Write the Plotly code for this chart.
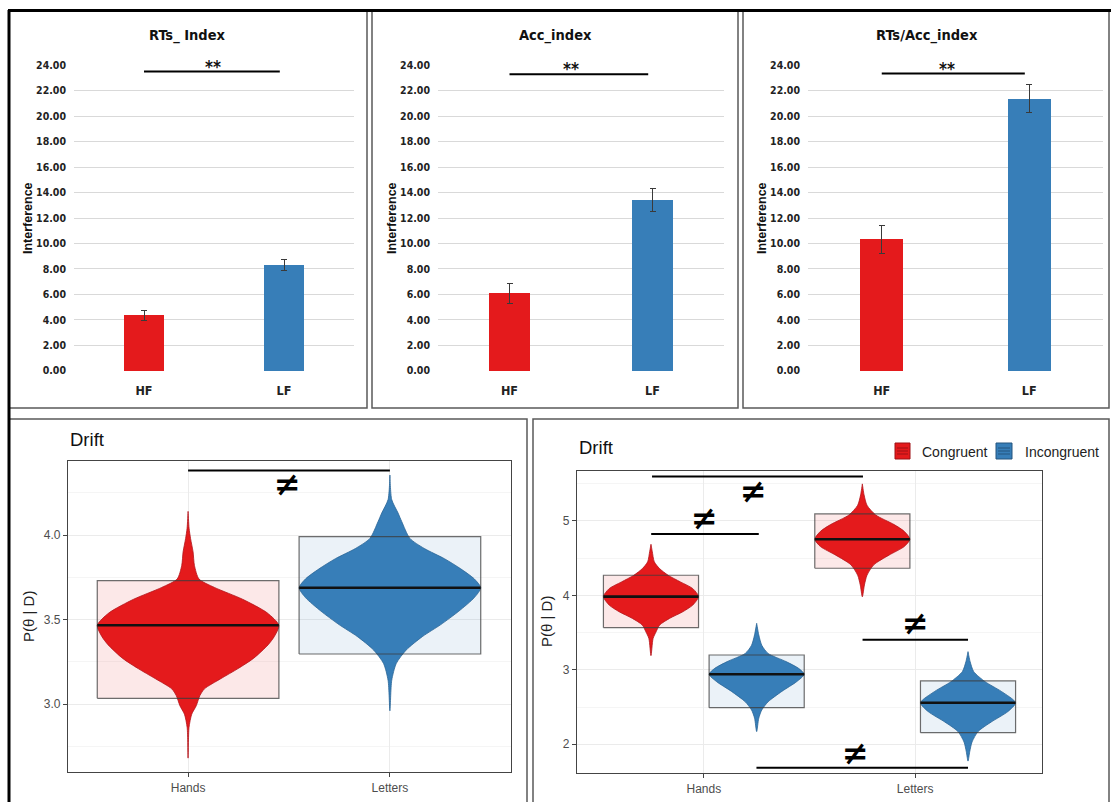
import plotly.graph_objects as go

W, H = 1111, 802

# ---------------- data: interference indices (top row) ----------------
groups = ["HF", "LF"]
bar_titles = ["RTs_ Index", "Acc_index", "RTs/Acc_index"]
rts_mean = [4.35, 8.33]
rts_err = [0.42, 0.44]
acc_mean = [6.09, 13.39]
acc_err = [0.77, 0.90]
ratio_mean = [10.33, 21.36]
ratio_err = [1.12, 1.10]
bar_sig_y = [23.5, 23.3, 23.35]
bar_sig_text = ["**", "**", "**"]
bar_ticks = [0, 2, 4, 6, 8, 10, 12, 14, 16, 18, 20, 22, 24]

# ---------------- data: drift posterior, by stimulus ----------------
drift_cats = ["Hands", "Letters"]
drift_a_median = [3.466, 3.688]
drift_a_low = [3.034, 3.296]
drift_a_high = [3.73, 3.99]
# violin outlines: y levels and relative half-widths (1 = widest)
hands_a_y = [2.68, 2.86, 2.94, 2.99, 3.05, 3.09, 3.15, 3.21, 3.27, 3.35, 3.40,
             3.466, 3.54, 3.62, 3.69, 3.74, 3.82, 3.90, 3.98, 4.04, 4.14]
hands_a_w = [0, 0.01, 0.04, 0.09, 0.13, 0.18, 0.36, 0.55, 0.72, 0.88, 0.95,
             1.0, 0.87, 0.6, 0.29, 0.12, 0.07, 0.055, 0.027, 0.011, 0]
letters_a_y = [2.96, 3.14, 3.24, 3.32, 3.40, 3.47, 3.55, 3.63, 3.688, 3.74,
               3.80, 3.86, 3.92, 3.98, 4.08, 4.13, 4.21, 4.355]
letters_a_w = [0, 0.02, 0.07, 0.18, 0.36, 0.56, 0.76, 0.93, 1.0, 0.93,
               0.78, 0.6, 0.38, 0.22, 0.13, 0.09, 0.02, 0]
drift_a_sig = [(0, 1, 4.382)]
drift_a_sig_label = [(0.495, 4.30)]

# ---------------- data: drift posterior, by stimulus x congruency ----------------
conditions = ["Congruent", "Incongruent"]
drift_b_median = {"Congruent": [3.983, 4.754], "Incongruent": [2.94, 2.558]}
drift_b_low = {"Congruent": [3.566, 4.364], "Incongruent": [2.491, 2.155]}
drift_b_high = {"Congruent": [4.27, 5.094], "Incongruent": [3.199, 2.85]}
cong_hands_y = [3.19, 3.42, 3.51, 3.60, 3.69, 3.78, 3.87, 3.983, 4.09, 4.18, 4.27, 4.36, 4.45, 4.59, 4.686]
cong_hands_w = [0, 0.044, 0.107, 0.18, 0.39, 0.67, 0.88, 1.0, 0.88, 0.62, 0.36, 0.18, 0.07, 0.027, 0]
incong_hands_y = [2.17, 2.35, 2.46, 2.57, 2.71, 2.84, 2.94, 3.02, 3.11, 3.22, 3.33, 3.47, 3.625]
incong_hands_w = [0, 0.044, 0.107, 0.24, 0.53, 0.84, 1.0, 0.88, 0.62, 0.24, 0.107, 0.044, 0]
cong_letters_y = [3.98, 4.14, 4.27, 4.41, 4.54, 4.655, 4.754, 4.86, 4.95, 5.08, 5.21, 5.35, 5.497]
cong_letters_w = [0, 0.044, 0.098, 0.24, 0.56, 0.88, 1.0, 0.88, 0.67, 0.28, 0.098, 0.036, 0]
incong_letters_y = [1.774, 1.90, 2.03, 2.17, 2.30, 2.44, 2.558, 2.71, 2.84, 2.975, 3.11, 3.244]
incong_letters_w = [0, 0.036, 0.084, 0.21, 0.49, 0.84, 1.0, 0.7, 0.36, 0.12, 0.044, 0]
drift_b_sig = [(-0.245, 0.753, 5.596), (-0.249, 0.26, 4.825), (0.751, 1.25, 3.405), (0.249, 1.25, 1.685)]
drift_b_sig_label = [(0.233, 5.40), (0.003, 5.04), (1.0, 3.625), (0.72, 1.877)]

# ---------------- styling ----------------
RED = "#E41A1C"
BLUE = "#377EB8"
RED_EDGE = "#B3141A"
BLUE_EDGE = "#2A6496"
RED_BOX = "rgba(228,26,28,0.10)"
BLUE_BOX = "rgba(55,126,184,0.10)"
NARROW = "Liberation Sans Narrow, DejaVu Sans Condensed, Arial Narrow, sans-serif"
SANS = "Liberation Sans, Arial, Helvetica, sans-serif"


def xd(a, b):
    return [a / W, b / W]


def yd(top, bottom):
    return [1 - bottom / H, 1 - top / H]


def px(a):
    return a / W


def py(b):
    return 1 - b / H


fig = go.Figure()
shapes = []
annotations = []

# ---------------- top row: bar charts ----------------
bar_means = [rts_mean, acc_mean, ratio_mean]
bar_errs = [rts_err, acc_err, ratio_err]
bar_xdom = [(74, 354), (438, 724), (808, 1103)]
panel_cx = [188, 555, 927]
ytitle_x = [28, 392, 762]
star_x = [0.49, 0.43, 0.44]
for i in range(3):
    ax = "" if i == 0 else str(i + 1)
    fig.add_trace(go.Bar(
        x=groups, y=bar_means[i], width=0.29,
        marker=dict(color=[RED, BLUE], line=dict(width=0)),
        error_y=dict(type="data", array=bar_errs[i], color="#3a3a3a", thickness=1, width=3),
        xaxis="x" + ax, yaxis="y" + ax, showlegend=False,
    ))
    fig.update_layout(**{
        "xaxis" + ax: dict(
            domain=xd(*bar_xdom[i]), anchor="y" + ax, type="category", automargin=False,
            range=[-0.5, 1.5], showgrid=False, zeroline=False, showline=False,
            ticks="", ticklabelstandoff=10,
            tickfont=dict(family=NARROW, size=12.5, color="#222", weight="bold"),
        ),
        "yaxis" + ax: dict(
            domain=yd(65, 371), anchor="x" + ax, range=[-0.02, 24.02], automargin=False,
            tickvals=bar_ticks, ticktext=[f"{v:.2f}" for v in bar_ticks],
            showgrid=True, gridcolor="#D9D9D9", gridwidth=1, zeroline=False,
            showline=False, ticks="", ticklabelstandoff=7,
            tickfont=dict(family=NARROW, size=10.5, color="#222", weight="bold"),
        ),
    })
    # significance bracket
    shapes.append(dict(type="line", xref="x" + ax, yref="y" + ax, x0=0, x1=0.97,
                       y0=bar_sig_y[i], y1=bar_sig_y[i], line=dict(color="black", width=2)))
    annotations.append(dict(xref="x" + ax, yref="y" + ax, x=star_x[i], y=bar_sig_y[i],
                            xanchor="center", yanchor="bottom", yshift=-7,
                            text="<b>" + bar_sig_text[i] + "</b>",
                            showarrow=False, font=dict(family=NARROW, size=17, color="#111")))
    # panel title and y-axis title
    annotations.append(dict(xref="paper", yref="paper", x=px(panel_cx[i]), y=py(36),
                            xanchor="center", yanchor="middle",
                            text="<b>" + bar_titles[i] + "</b>", showarrow=False,
                            font=dict(family=NARROW, size=14.5, color="#111")))
    annotations.append(dict(xref="paper", yref="paper", x=px(ytitle_x[i]), y=py(218),
                            xanchor="center", yanchor="middle",
                            text="<b>Interference</b>", textangle=-90, showarrow=False,
                            font=dict(family=SANS, size=12.5, color="#111")))


# ---------------- bottom row helpers ----------------
def add_pirate(center, half, low, high, med, vy, vw, fill, edge, boxfill, ax):
    # translucent band
    fig.add_trace(go.Scatter(
        x=[center - half, center + half, center + half, center - half, center - half],
        y=[low, low, high, high, low], mode="lines", fill="toself", fillcolor=boxfill,
        line=dict(width=0), xaxis="x" + ax, yaxis="y" + ax, showlegend=False, hoverinfo="skip"))
    # density outline
    xs = [center + half * w for w in vw] + [center - half * w for w in reversed(vw)]
    ys = list(vy) + list(reversed(vy))
    fig.add_trace(go.Scatter(
        x=xs, y=ys, mode="lines", fill="toself", fillcolor=fill,
        line=dict(color=edge, width=0.8, shape="spline", smoothing=0.7),
        xaxis="x" + ax, yaxis="y" + ax, showlegend=False, hoverinfo="skip"))
    # band outline
    fig.add_trace(go.Scatter(
        x=[center - half, center + half, center + half, center - half, center - half],
        y=[low, low, high, high, low], mode="lines",
        line=dict(color="rgba(60,60,60,0.75)", width=1.2),
        xaxis="x" + ax, yaxis="y" + ax, showlegend=False, hoverinfo="skip"))
    # median
    fig.add_trace(go.Scatter(
        x=[center - half, center + half], y=[med, med], mode="lines",
        line=dict(color="#111", width=2.6),
        xaxis="x" + ax, yaxis="y" + ax, showlegend=False, hoverinfo="skip"))


def bottom_axes(ax, xdom, ydom, yrange, yticks, ytext, yminor, xrange):
    fig.update_layout(**{
        "xaxis" + ax: dict(
            domain=xd(*xdom), anchor="y" + ax, range=xrange, automargin=False,
            tickvals=[0, 1], ticktext=drift_cats, showgrid=True, gridcolor="#EBEBEB",
            zeroline=False, showline=True, mirror=True, linecolor="#444", linewidth=1.3,
            ticks="outside", ticklen=4, tickcolor="#444",
            tickfont=dict(family=SANS, size=12, color="#4D4D4D"),
        ),
        "yaxis" + ax: dict(
            domain=yd(*ydom), anchor="x" + ax, range=yrange, automargin=False,
            tickvals=yticks, ticktext=ytext,
            showgrid=True, gridcolor="#EBEBEB", zeroline=False,
            minor=dict(tickvals=yminor, showgrid=True, gridcolor="#F5F5F5", ticks=""),
            showline=True, mirror=True, linecolor="#444", linewidth=1.3,
            ticks="outside", ticklen=4, tickcolor="#444",
            tickfont=dict(family=SANS, size=12, color="#4D4D4D"),
        ),
    })


NEQ_FONT = dict(family="DejaVu Sans", size=32, color="black")

# ---------------- bottom-left: Drift by stimulus ----------------
bottom_axes("4", (68, 511), (461, 772), [2.598, 4.438], [3.0, 3.5, 4.0], ["3.0", "3.5", "4.0"],
            [2.75, 3.25, 3.75, 4.25], [-0.595, 1.6])
add_pirate(0, 0.45, drift_a_low[0], drift_a_high[0], drift_a_median[0],
           hands_a_y, hands_a_w, RED, RED_EDGE, RED_BOX, "4")
add_pirate(1, 0.45, drift_a_low[1], drift_a_high[1], drift_a_median[1],
           letters_a_y, letters_a_w, BLUE, BLUE_EDGE, BLUE_BOX, "4")
for (x0, x1, yv), (lx, ly) in zip(drift_a_sig, drift_a_sig_label):
    shapes.append(dict(type="line", xref="x4", yref="y4", x0=x0, x1=x1, y0=yv, y1=yv,
                       line=dict(color="black", width=2)))
    annotations.append(dict(xref="x4", yref="y4", x=lx, y=ly, xanchor="center", yanchor="middle",
                            text="<b>≠</b>", showarrow=False, font=NEQ_FONT))
annotations.append(dict(xref="paper", yref="paper", x=px(68), y=py(439), xanchor="left",
                        yanchor="middle", text="Drift", showarrow=False,
                        font=dict(family=SANS, size=18.5, color="#111")))
annotations.append(dict(xref="paper", yref="paper", x=px(28), y=py(617), text="P(θ | D)",
                        xanchor="center", yanchor="middle",
                        textangle=-90, showarrow=False, font=dict(family=SANS, size=15, color="#222")))

# ---------------- bottom-right: Drift by stimulus x congruency ----------------
bottom_axes("5", (577, 1042), (471, 773), [1.614, 5.67], [2, 3, 4, 5], ["2", "3", "4", "5"],
            [2.5, 3.5, 4.5, 5.5], [-0.6, 1.6])
profiles = {
    ("Congruent", 0): (cong_hands_y, cong_hands_w),
    ("Incongruent", 0): (incong_hands_y, incong_hands_w),
    ("Congruent", 1): (cong_letters_y, cong_letters_w),
    ("Incongruent", 1): (incong_letters_y, incong_letters_w),
}
style = {"Congruent": (RED, RED_EDGE, RED_BOX, -0.25), "Incongruent": (BLUE, BLUE_EDGE, BLUE_BOX, 0.25)}
for k in range(len(drift_cats)):
    for cond in conditions:
        fill, edge, boxfill, off = style[cond]
        vy, vw = profiles[(cond, k)]
        add_pirate(k + off, 0.225, drift_b_low[cond][k], drift_b_high[cond][k],
                   drift_b_median[cond][k], vy, vw, fill, edge, boxfill, "5")
for (x0, x1, yv), (lx, ly) in zip(drift_b_sig, drift_b_sig_label):
    shapes.append(dict(type="line", xref="x5", yref="y5", x0=x0, x1=x1, y0=yv, y1=yv,
                       line=dict(color="black", width=2)))
    annotations.append(dict(xref="x5", yref="y5", x=lx, y=ly, xanchor="center", yanchor="middle",
                            text="<b>≠</b>", showarrow=False, font=NEQ_FONT))
annotations.append(dict(xref="paper", yref="paper", x=px(577), y=py(448), xanchor="left",
                        yanchor="middle", text="Drift", showarrow=False,
                        font=dict(family=SANS, size=18.5, color="#111")))
annotations.append(dict(xref="paper", yref="paper", x=px(546), y=py(622), text="P(θ | D)",
                        xanchor="center", yanchor="middle",
                        textangle=-90, showarrow=False, font=dict(family=SANS, size=15, color="#222")))

# legend keys
legend_keys = [(895, 910, RED, "#9E1114"), (996, 1012, BLUE, "#24557F")]
legend_text_x = [920, 1023]
for (k0, k1, col, edge), tx, cond in zip(legend_keys, legend_text_x, conditions):
    shapes.append(dict(type="rect", xref="paper", yref="paper", x0=px(k0), x1=px(k1),
                       y0=py(459), y1=py(443), fillcolor=col, line=dict(color=edge, width=1)))
    for yy in (448, 451, 454):
        shapes.append(dict(type="line", xref="paper", yref="paper", x0=px(k0 + 2), x1=px(k1 - 2),
                           y0=py(yy), y1=py(yy), line=dict(color=edge, width=1)))
    annotations.append(dict(xref="paper", yref="paper", x=px(tx), y=py(452), xanchor="left",
                            yanchor="middle", text=cond, showarrow=False,
                            font=dict(family=SANS, size=14, color="#222")))

# ---------------- panel frames ----------------
frames = [(9, 11, 367, 408), (372, 11, 738, 408), (743, 11, 1109, 408),
          (9, 419, 527, 806), (533, 419, 1109, 806)]
for x0, y0, x1, y1 in frames:
    shapes.append(dict(type="rect", xref="paper", yref="paper", x0=px(x0), x1=px(x1),
                       y0=py(y1), y1=py(y0), line=dict(color="#5a5a5a", width=1.5),
                       fillcolor="rgba(0,0,0,0)", layer="above"))
# outer black frame (left and top)
shapes.append(dict(type="line", xref="paper", yref="paper", x0=px(9), x1=px(9),
                   y0=py(806), y1=py(10), line=dict(color="black", width=3)))
shapes.append(dict(type="line", xref="paper", yref="paper", x0=px(8), x1=px(1111),
                   y0=py(10.5), y1=py(10.5), line=dict(color="black", width=3)))

fig.update_layout(
    width=W, height=H, margin=dict(l=0, r=0, t=0, b=0),
    paper_bgcolor="white", plot_bgcolor="white",
    shapes=shapes, annotations=annotations, showlegend=False,
    bargap=0,
)

fig.write_html("out.html")
